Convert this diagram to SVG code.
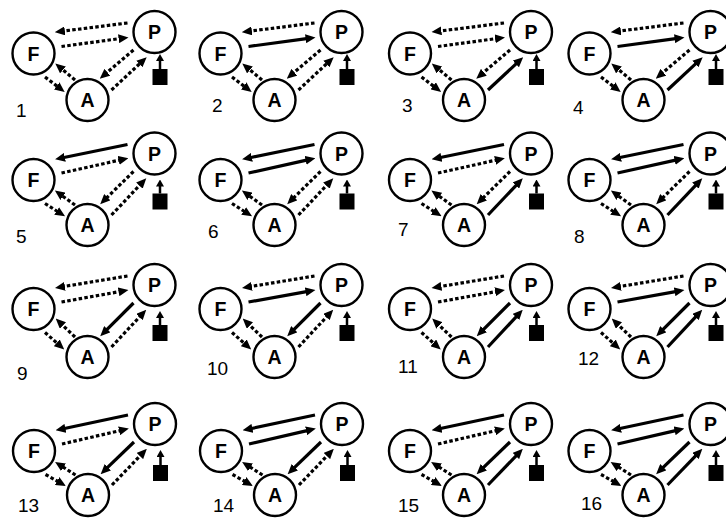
<svg xmlns="http://www.w3.org/2000/svg" width="726" height="521" viewBox="0 0 726 521">
<style>
.s{stroke:#000;stroke-width:3.2;fill:none;marker-end:url(#ah)}
.d{stroke:#000;stroke-width:3.2;fill:none;stroke-dasharray:3.5 2.3;marker-end:url(#ah)}
.u{stroke:#000;stroke-width:2.5;fill:none;marker-end:url(#ah2)}
.node circle{fill:#fff;stroke:#000;stroke-width:2.4}
.node text{font-family:"Liberation Sans",Arial,sans-serif;font-weight:bold;font-size:19.5px;text-anchor:middle;fill:#000}
.src rect{fill:#000}
.num{font-family:"Liberation Sans",Arial,sans-serif;font-size:19px;fill:#000}
</style>
<defs>
<marker id="ah" markerUnits="userSpaceOnUse" markerWidth="10" markerHeight="9" viewBox="0 0 10 9" refX="1" refY="4.5" orient="auto"><path d="M0,0 L10,4.5 L0,9 z" fill="#000"/></marker>
<marker id="ah2" markerUnits="userSpaceOnUse" markerWidth="7" markerHeight="8" viewBox="0 0 7 8" refX="1" refY="4" orient="auto"><path d="M0,0 L7,4 L0,8 z" fill="#000"/></marker>
</defs>
<rect width="726" height="521" fill="#fff"/>

<!-- Row 1 -->
<g id="panel1" transform="translate(33.5,0)">
<g id="panel1-connectors">
<line class="d" x1="94" y1="23" x2="30.4" y2="31"/>
<line class="d" x1="28" y1="46.5" x2="86.1" y2="38.6"/>
<line class="d" x1="100" y1="50" x2="73.1" y2="72.9"/>
<line class="d" x1="78" y1="90" x2="106.6" y2="63.3"/>
<line class="d" x1="11.5" y1="77" x2="24" y2="86.5"/>
<line class="d" x1="41.5" y1="80" x2="28.7" y2="69.3"/>
<line class="u" x1="126.5" y1="69" x2="126.5" y2="60"/>
</g>
<g id="panel1-F" class="node"><circle cx="0" cy="53.5" r="21"/><text x="0" y="60.5">F</text></g>
<g id="panel1-P" class="node"><circle cx="121" cy="32" r="21"/><text x="121" y="39">P</text></g>
<g id="panel1-A" class="node"><circle cx="54" cy="100" r="21"/><text x="54" y="107">A</text></g>
<g id="panel1-S" class="src"><rect x="119" y="69" width="15" height="16"/></g>
<text class="num" x="-17.5" y="117">1</text>
</g>

<g id="panel2" transform="translate(220.5,0)">
<g id="panel2-connectors">
<line class="d" x1="94" y1="23" x2="30.4" y2="31"/>
<line class="s" x1="28" y1="46.5" x2="86.1" y2="38.6"/>
<line class="d" x1="100" y1="50" x2="73.1" y2="72.9"/>
<line class="d" x1="78" y1="90" x2="106.6" y2="63.3"/>
<line class="d" x1="11.5" y1="77" x2="24" y2="86.5"/>
<line class="d" x1="41.5" y1="80" x2="28.7" y2="69.3"/>
<line class="u" x1="126.5" y1="69" x2="126.5" y2="60"/>
</g>
<g id="panel2-F" class="node"><circle cx="0" cy="53.5" r="21"/><text x="0" y="60.5">F</text></g>
<g id="panel2-P" class="node"><circle cx="121" cy="32" r="21"/><text x="121" y="39">P</text></g>
<g id="panel2-A" class="node"><circle cx="54" cy="100" r="21"/><text x="54" y="107">A</text></g>
<g id="panel2-S" class="src"><rect x="119" y="69" width="15" height="16"/></g>
<text class="num" x="-8.5" y="112">2</text>
</g>

<g id="panel3" transform="translate(410,0)">
<g id="panel3-connectors">
<line class="d" x1="94" y1="23" x2="30.4" y2="31"/>
<line class="d" x1="28" y1="46.5" x2="86.1" y2="38.6"/>
<line class="d" x1="100" y1="50" x2="73.1" y2="72.9"/>
<line class="s" x1="78" y1="90" x2="106.6" y2="63.3"/>
<line class="d" x1="11.5" y1="77" x2="24" y2="86.5"/>
<line class="d" x1="41.5" y1="80" x2="28.7" y2="69.3"/>
<line class="u" x1="126.5" y1="69" x2="126.5" y2="60"/>
</g>
<g id="panel3-F" class="node"><circle cx="0" cy="53.5" r="21"/><text x="0" y="60.5">F</text></g>
<g id="panel3-P" class="node"><circle cx="121" cy="32" r="21"/><text x="121" y="39">P</text></g>
<g id="panel3-A" class="node"><circle cx="54" cy="100" r="21"/><text x="54" y="107">A</text></g>
<g id="panel3-S" class="src"><rect x="119" y="69" width="15" height="16"/></g>
<text class="num" x="-8" y="112">3</text>
</g>

<g id="panel4" transform="translate(589.5,0)">
<g id="panel4-connectors">
<line class="d" x1="94" y1="23" x2="30.4" y2="31"/>
<line class="s" x1="28" y1="46.5" x2="86.1" y2="38.6"/>
<line class="d" x1="100" y1="50" x2="73.1" y2="72.9"/>
<line class="s" x1="78" y1="90" x2="106.6" y2="63.3"/>
<line class="d" x1="11.5" y1="77" x2="24" y2="86.5"/>
<line class="d" x1="41.5" y1="80" x2="28.7" y2="69.3"/>
<line class="u" x1="126.5" y1="69" x2="126.5" y2="60"/>
</g>
<g id="panel4-F" class="node"><circle cx="0" cy="53.5" r="21"/><text x="0" y="60.5">F</text></g>
<g id="panel4-P" class="node"><circle cx="121" cy="32" r="21"/><text x="121" y="39">P</text></g>
<g id="panel4-A" class="node"><circle cx="54" cy="100" r="21"/><text x="54" y="107">A</text></g>
<g id="panel4-S" class="src"><rect x="119" y="69" width="15" height="16"/></g>
<text class="num" x="-16.5" y="114">4</text>
</g>

<!-- Row 2 -->
<g id="panel5" transform="translate(33.5,0)">
<g id="panel5-connectors">
<line class="s" x1="94" y1="144.5" x2="30.4" y2="157.5"/>
<line class="d" x1="28" y1="173" x2="86.1" y2="160.1"/>
<line class="d" x1="100" y1="171.5" x2="73.1" y2="197.9"/>
<line class="d" x1="78" y1="215" x2="106.6" y2="184.8"/>
<line class="d" x1="11.5" y1="203.5" x2="24" y2="211.5"/>
<line class="d" x1="41.5" y1="205" x2="28.7" y2="195.8"/>
<line class="u" x1="126.5" y1="193.5" x2="126.5" y2="185.5"/>
</g>
<g id="panel5-F" class="node"><circle cx="0" cy="180" r="21"/><text x="0" y="187">F</text></g>
<g id="panel5-P" class="node"><circle cx="121" cy="153.5" r="21"/><text x="121" y="160.5">P</text></g>
<g id="panel5-A" class="node"><circle cx="54" cy="225" r="21"/><text x="54" y="232">A</text></g>
<g id="panel5-S" class="src"><rect x="119" y="193.5" width="15" height="16"/></g>
<text class="num" x="-17.5" y="243">5</text>
</g>

<g id="panel6" transform="translate(220.5,0)">
<g id="panel6-connectors">
<line class="s" x1="94" y1="144.5" x2="30.4" y2="157.5"/>
<line class="s" x1="28" y1="173" x2="86.1" y2="160.1"/>
<line class="d" x1="100" y1="171.5" x2="73.1" y2="197.9"/>
<line class="d" x1="78" y1="215" x2="106.6" y2="184.8"/>
<line class="d" x1="11.5" y1="203.5" x2="24" y2="211.5"/>
<line class="d" x1="41.5" y1="205" x2="28.7" y2="195.8"/>
<line class="u" x1="126.5" y1="193.5" x2="126.5" y2="185.5"/>
</g>
<g id="panel6-F" class="node"><circle cx="0" cy="180" r="21"/><text x="0" y="187">F</text></g>
<g id="panel6-P" class="node"><circle cx="121" cy="153.5" r="21"/><text x="121" y="160.5">P</text></g>
<g id="panel6-A" class="node"><circle cx="54" cy="225" r="21"/><text x="54" y="232">A</text></g>
<g id="panel6-S" class="src"><rect x="119" y="193.5" width="15" height="16"/></g>
<text class="num" x="-12.5" y="238">6</text>
</g>

<g id="panel7" transform="translate(410,0)">
<g id="panel7-connectors">
<line class="s" x1="94" y1="144.5" x2="30.4" y2="157.5"/>
<line class="d" x1="28" y1="173" x2="86.1" y2="160.1"/>
<line class="d" x1="100" y1="171.5" x2="73.1" y2="197.9"/>
<line class="s" x1="78" y1="215" x2="106.6" y2="184.8"/>
<line class="d" x1="11.5" y1="203.5" x2="24" y2="211.5"/>
<line class="d" x1="41.5" y1="205" x2="28.7" y2="195.8"/>
<line class="u" x1="126.5" y1="193.5" x2="126.5" y2="185.5"/>
</g>
<g id="panel7-F" class="node"><circle cx="0" cy="180" r="21"/><text x="0" y="187">F</text></g>
<g id="panel7-P" class="node"><circle cx="121" cy="153.5" r="21"/><text x="121" y="160.5">P</text></g>
<g id="panel7-A" class="node"><circle cx="54" cy="225" r="21"/><text x="54" y="232">A</text></g>
<g id="panel7-S" class="src"><rect x="119" y="193.5" width="15" height="16"/></g>
<text class="num" x="-12" y="236">7</text>
</g>

<g id="panel8" transform="translate(589.5,0)">
<g id="panel8-connectors">
<line class="s" x1="94" y1="144.5" x2="30.4" y2="157.5"/>
<line class="s" x1="28" y1="173" x2="86.1" y2="160.1"/>
<line class="d" x1="100" y1="171.5" x2="73.1" y2="197.9"/>
<line class="s" x1="78" y1="215" x2="106.6" y2="184.8"/>
<line class="d" x1="11.5" y1="203.5" x2="24" y2="211.5"/>
<line class="d" x1="41.5" y1="205" x2="28.7" y2="195.8"/>
<line class="u" x1="126.5" y1="193.5" x2="126.5" y2="185.5"/>
</g>
<g id="panel8-F" class="node"><circle cx="0" cy="180" r="21"/><text x="0" y="187">F</text></g>
<g id="panel8-P" class="node"><circle cx="121" cy="153.5" r="21"/><text x="121" y="160.5">P</text></g>
<g id="panel8-A" class="node"><circle cx="54" cy="225" r="21"/><text x="54" y="232">A</text></g>
<g id="panel8-S" class="src"><rect x="119" y="193.5" width="15" height="16"/></g>
<text class="num" x="-15.5" y="243">8</text>
</g>

<!-- Row 3 -->
<g id="panel9" transform="translate(33.5,0)">
<g id="panel9-connectors">
<line class="d" x1="94" y1="276" x2="30.4" y2="286.5"/>
<line class="d" x1="28" y1="302" x2="86.1" y2="291.6"/>
<line class="s" x1="100" y1="303" x2="73.1" y2="329.9"/>
<line class="d" x1="78" y1="347" x2="106.6" y2="316.3"/>
<line class="d" x1="11.5" y1="332.5" x2="24" y2="343.5"/>
<line class="d" x1="41.5" y1="337" x2="28.7" y2="324.8"/>
<line class="u" x1="126.5" y1="325" x2="126.5" y2="317"/>
</g>
<g id="panel9-F" class="node"><circle cx="0" cy="309" r="21"/><text x="0" y="316">F</text></g>
<g id="panel9-P" class="node"><circle cx="121" cy="285" r="21"/><text x="121" y="292">P</text></g>
<g id="panel9-A" class="node"><circle cx="54" cy="357" r="21"/><text x="54" y="364">A</text></g>
<g id="panel9-S" class="src"><rect x="119" y="325" width="15" height="16"/></g>
<text class="num" x="-16.5" y="380">9</text>
</g>

<g id="panel10" transform="translate(220.5,0)">
<g id="panel10-connectors">
<line class="d" x1="94" y1="276" x2="30.4" y2="286.5"/>
<line class="s" x1="28" y1="302" x2="86.1" y2="291.6"/>
<line class="s" x1="100" y1="303" x2="73.1" y2="329.9"/>
<line class="d" x1="78" y1="347" x2="106.6" y2="316.3"/>
<line class="d" x1="11.5" y1="332.5" x2="24" y2="343.5"/>
<line class="d" x1="41.5" y1="337" x2="28.7" y2="324.8"/>
<line class="u" x1="126.5" y1="325" x2="126.5" y2="317"/>
</g>
<g id="panel10-F" class="node"><circle cx="0" cy="309" r="21"/><text x="0" y="316">F</text></g>
<g id="panel10-P" class="node"><circle cx="121" cy="285" r="21"/><text x="121" y="292">P</text></g>
<g id="panel10-A" class="node"><circle cx="54" cy="357" r="21"/><text x="54" y="364">A</text></g>
<g id="panel10-S" class="src"><rect x="119" y="325" width="15" height="16"/></g>
<text class="num" x="-13.5" y="375">10</text>
</g>

<g id="panel11" transform="translate(410,0)">
<g id="panel11-connectors">
<line class="d" x1="94" y1="276" x2="30.4" y2="286.5"/>
<line class="d" x1="28" y1="302" x2="86.1" y2="291.6"/>
<line class="s" x1="100" y1="303" x2="73.1" y2="329.9"/>
<line class="s" x1="78" y1="347" x2="106.6" y2="316.3"/>
<line class="d" x1="11.5" y1="332.5" x2="24" y2="343.5"/>
<line class="d" x1="41.5" y1="337" x2="28.7" y2="324.8"/>
<line class="u" x1="126.5" y1="325" x2="126.5" y2="317"/>
</g>
<g id="panel11-F" class="node"><circle cx="0" cy="309" r="21"/><text x="0" y="316">F</text></g>
<g id="panel11-P" class="node"><circle cx="121" cy="285" r="21"/><text x="121" y="292">P</text></g>
<g id="panel11-A" class="node"><circle cx="54" cy="357" r="21"/><text x="54" y="364">A</text></g>
<g id="panel11-S" class="src"><rect x="119" y="325" width="15" height="16"/></g>
<text class="num" x="-12" y="373">11</text>
</g>

<g id="panel12" transform="translate(589.5,0)">
<g id="panel12-connectors">
<line class="d" x1="94" y1="276" x2="30.4" y2="286.5"/>
<line class="s" x1="28" y1="302" x2="86.1" y2="291.6"/>
<line class="s" x1="100" y1="303" x2="73.1" y2="329.9"/>
<line class="s" x1="78" y1="347" x2="106.6" y2="316.3"/>
<line class="d" x1="11.5" y1="332.5" x2="24" y2="343.5"/>
<line class="d" x1="41.5" y1="337" x2="28.7" y2="324.8"/>
<line class="u" x1="126.5" y1="325" x2="126.5" y2="317"/>
</g>
<g id="panel12-F" class="node"><circle cx="0" cy="309" r="21"/><text x="0" y="316">F</text></g>
<g id="panel12-P" class="node"><circle cx="121" cy="285" r="21"/><text x="121" y="292">P</text></g>
<g id="panel12-A" class="node"><circle cx="54" cy="357" r="21"/><text x="54" y="364">A</text></g>
<g id="panel12-S" class="src"><rect x="119" y="325" width="15" height="16"/></g>
<text class="num" x="-11.5" y="365">12</text>
</g>

<!-- Row 4 -->
<g id="panel13" transform="translate(34,0)">
<g id="panel13-connectors">
<line class="s" x1="94" y1="415" x2="30.4" y2="428.5"/>
<line class="d" x1="28" y1="444" x2="86.1" y2="430.6"/>
<line class="s" x1="100" y1="442" x2="73.1" y2="467.9"/>
<line class="d" x1="78" y1="485" x2="106.6" y2="455.3"/>
<line class="d" x1="11.5" y1="474.5" x2="24" y2="481.5"/>
<line class="d" x1="41.5" y1="475" x2="28.7" y2="466.8"/>
<line class="u" x1="126.5" y1="465" x2="126.5" y2="456"/>
</g>
<g id="panel13-F" class="node"><circle cx="0" cy="451" r="21"/><text x="0" y="458">F</text></g>
<g id="panel13-P" class="node"><circle cx="121" cy="424" r="21"/><text x="121" y="431">P</text></g>
<g id="panel13-A" class="node"><circle cx="54" cy="495" r="21"/><text x="54" y="502">A</text></g>
<g id="panel13-S" class="src"><rect x="119" y="465" width="15" height="16"/></g>
<text class="num" x="-16" y="512">13</text>
</g>

<g id="panel14" transform="translate(221,0)">
<g id="panel14-connectors">
<line class="s" x1="94" y1="415" x2="30.4" y2="428.5"/>
<line class="s" x1="28" y1="444" x2="86.1" y2="430.6"/>
<line class="s" x1="100" y1="442" x2="73.1" y2="467.9"/>
<line class="d" x1="78" y1="485" x2="106.6" y2="455.3"/>
<line class="d" x1="11.5" y1="474.5" x2="24" y2="481.5"/>
<line class="d" x1="41.5" y1="475" x2="28.7" y2="466.8"/>
<line class="u" x1="126.5" y1="465" x2="126.5" y2="456"/>
</g>
<g id="panel14-F" class="node"><circle cx="0" cy="451" r="21"/><text x="0" y="458">F</text></g>
<g id="panel14-P" class="node"><circle cx="121" cy="424" r="21"/><text x="121" y="431">P</text></g>
<g id="panel14-A" class="node"><circle cx="54" cy="495" r="21"/><text x="54" y="502">A</text></g>
<g id="panel14-S" class="src"><rect x="119" y="465" width="15" height="16"/></g>
<text class="num" x="-8" y="512">14</text>
</g>

<g id="panel15" transform="translate(410,0)">
<g id="panel15-connectors">
<line class="s" x1="94" y1="415" x2="30.4" y2="428.5"/>
<line class="d" x1="28" y1="444" x2="86.1" y2="430.6"/>
<line class="s" x1="100" y1="442" x2="73.1" y2="467.9"/>
<line class="s" x1="78" y1="485" x2="106.6" y2="455.3"/>
<line class="d" x1="11.5" y1="474.5" x2="24" y2="481.5"/>
<line class="d" x1="41.5" y1="475" x2="28.7" y2="466.8"/>
<line class="u" x1="126.5" y1="465" x2="126.5" y2="456"/>
</g>
<g id="panel15-F" class="node"><circle cx="0" cy="451" r="21"/><text x="0" y="458">F</text></g>
<g id="panel15-P" class="node"><circle cx="121" cy="424" r="21"/><text x="121" y="431">P</text></g>
<g id="panel15-A" class="node"><circle cx="54" cy="495" r="21"/><text x="54" y="502">A</text></g>
<g id="panel15-S" class="src"><rect x="119" y="465" width="15" height="16"/></g>
<text class="num" x="-12" y="512">15</text>
</g>

<g id="panel16" transform="translate(589.5,0)">
<g id="panel16-connectors">
<line class="s" x1="94" y1="415" x2="30.4" y2="428.5"/>
<line class="s" x1="28" y1="444" x2="86.1" y2="430.6"/>
<line class="s" x1="100" y1="442" x2="73.1" y2="467.9"/>
<line class="s" x1="78" y1="485" x2="106.6" y2="455.3"/>
<line class="d" x1="11.5" y1="474.5" x2="24" y2="481.5"/>
<line class="d" x1="41.5" y1="475" x2="28.7" y2="466.8"/>
<line class="u" x1="126.5" y1="465" x2="126.5" y2="456"/>
</g>
<g id="panel16-F" class="node"><circle cx="0" cy="451" r="21"/><text x="0" y="458">F</text></g>
<g id="panel16-P" class="node"><circle cx="121" cy="424" r="21"/><text x="121" y="431">P</text></g>
<g id="panel16-A" class="node"><circle cx="54" cy="495" r="21"/><text x="54" y="502">A</text></g>
<g id="panel16-S" class="src"><rect x="119" y="465" width="15" height="16"/></g>
<text class="num" x="-8.5" y="510">16</text>
</g>
</svg>
